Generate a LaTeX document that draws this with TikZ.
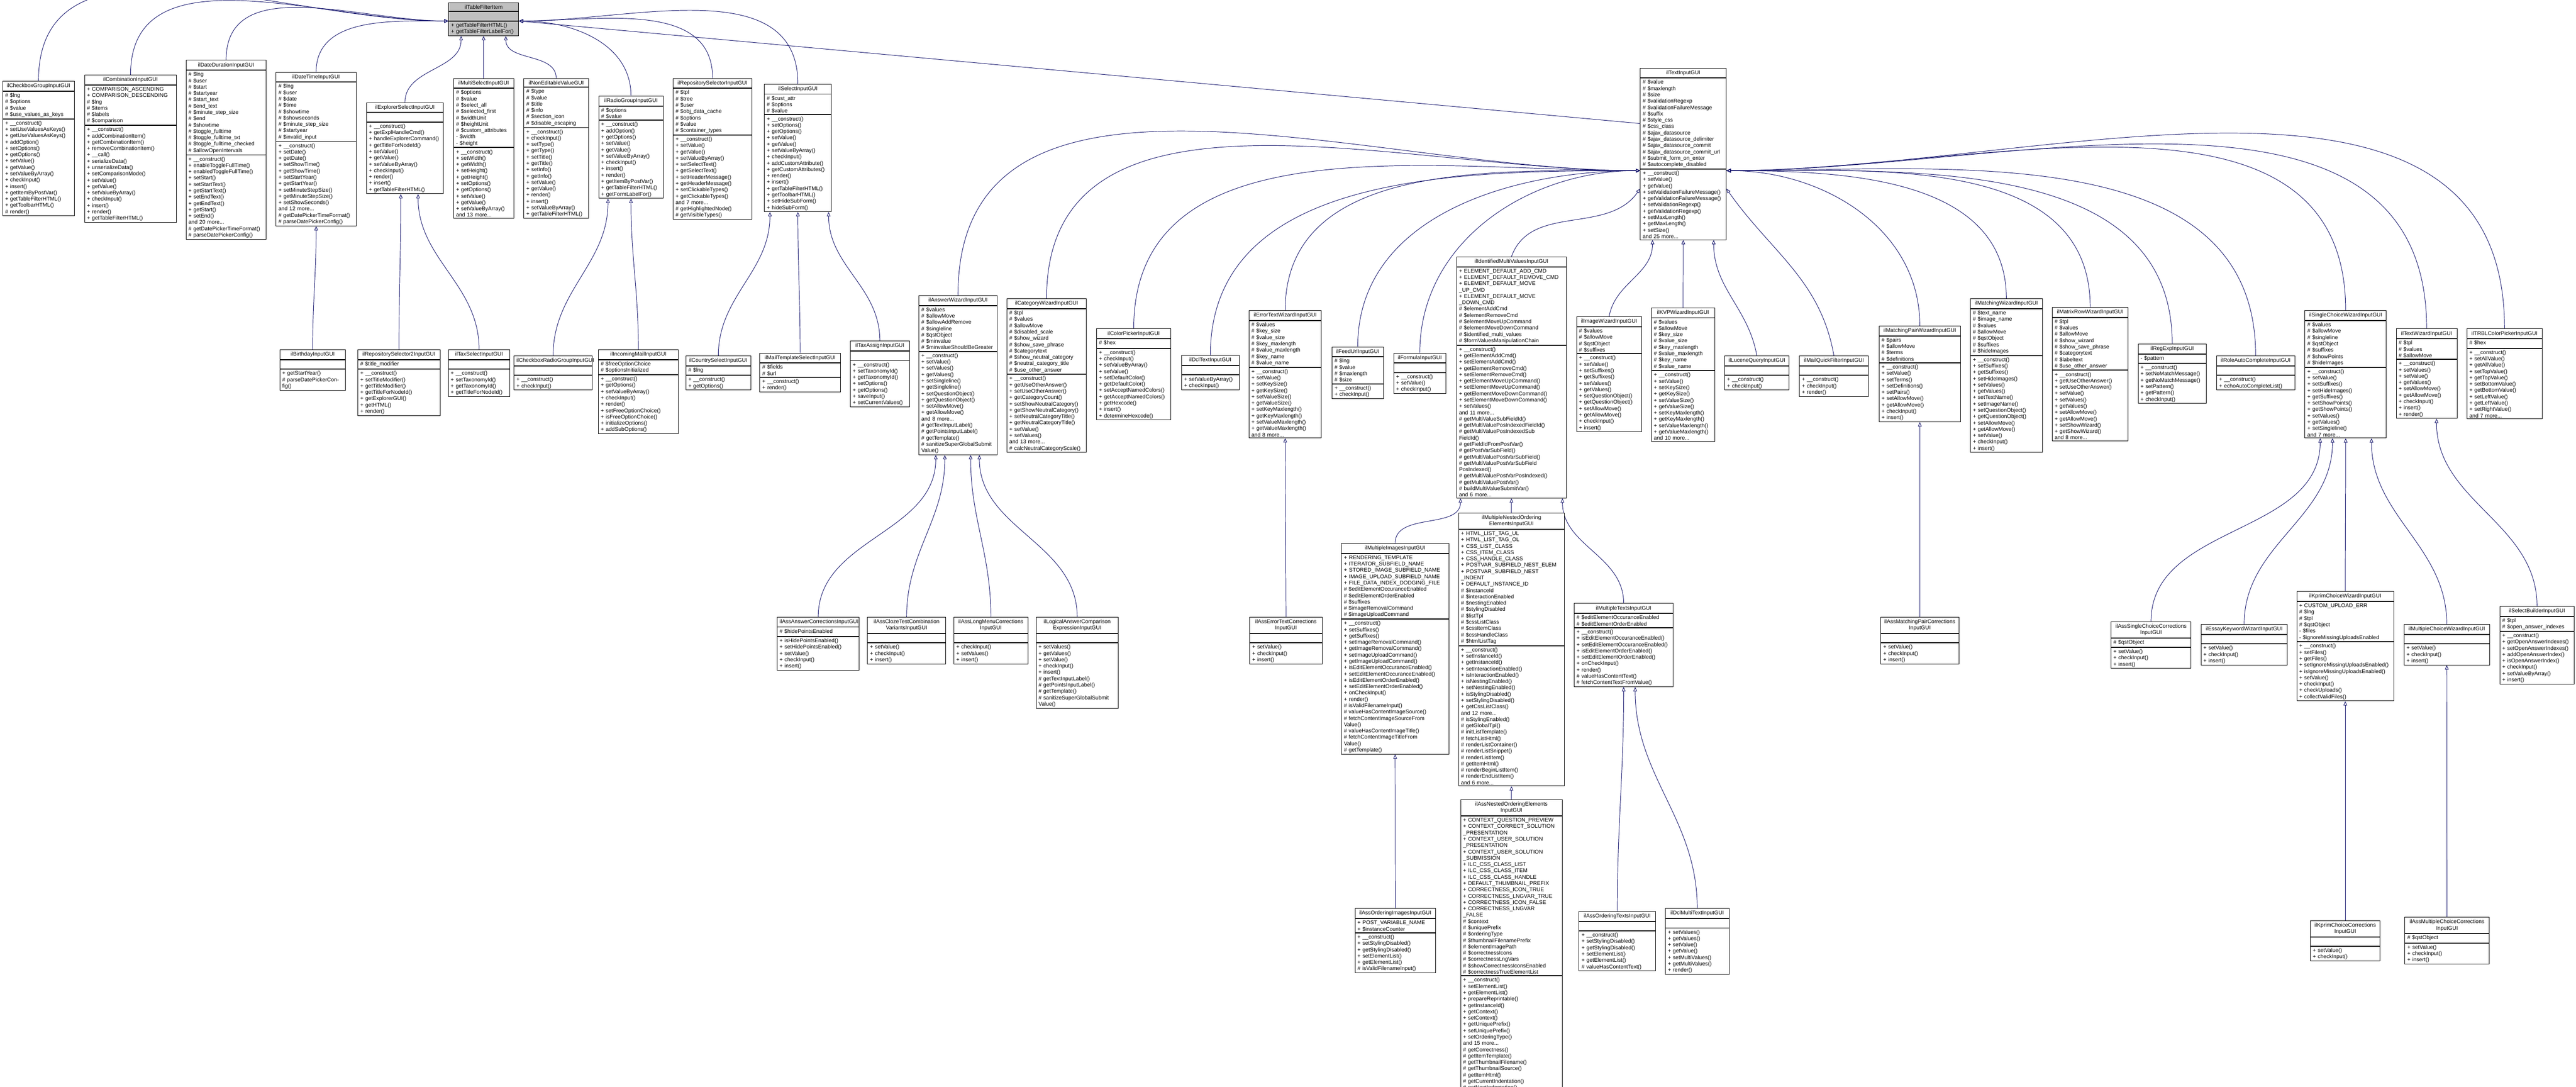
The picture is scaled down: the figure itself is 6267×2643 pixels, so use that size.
\documentclass[tikz,border=0pt]{standalone}
\usepackage{fontspec}
\setmainfont{Liberation Sans}
\usetikzlibrary{arrows.meta}
\definecolor{edgeblue}{HTML}{191970}
\definecolor{rootgray}{HTML}{BFBFBF}
\pgfdeclarelayer{bg}
\pgfdeclarelayer{paper}
\pgfsetlayers{paper,bg,main}
\tikzset{
  box/.style={draw=black,line width=0.3pt,fill=white,font=\fontsize{3.3}{3.85}\selectfont,inner xsep=1.5pt},
  ttl/.style={box,align=center,inner ysep=1.4pt},
  sec/.style={box,align=left,inner ysep=0.8pt},
  inh/.style={draw=edgeblue,line width=0.3pt,-{Triangle[open,length=2.6pt,width=2.2pt]}}
}
\newcommand\cls[8][]{%
  \pgfmathsetmacro\tw{#5*0.25-3}%
  \node[ttl,#1,text width=\tw pt,anchor=north west] (#2) at (#3,#4) {#6};
  \node[sec,#1,text width=\tw pt,anchor=north west] (#2a) at (#2.south west) {\strut#7};
  \node[sec,#1,text width=\tw pt,anchor=north west] (#2m) at (#2a.south west) {\strut#8};}
\begin{document}
\begin{tikzpicture}[x=0.25pt,y=-0.25pt]
\begin{pgfonlayer}{paper}
\fill[white] (0,0) rectangle (6267,2643);
\end{pgfonlayer}
\useasboundingbox (0,0) rectangle (6267,2643);
% root
\cls[fill=rootgray]{rt}{1091}{6}{170}{ilTableFilterItem}{}{+ getTableFilterHTML()\\+ getTableFilterLabelFor()}
% row 1
\cls{chk}{6}{197}{174}{ilCheckboxGroupInputGUI}{\# \$lng\\\# \$options\\\# \$value\\\# \$use\_values\_as\_keys}{+ \_\_construct()\\+ setUseValuesAsKeys()\\+ getUseValuesAsKeys()\\+ addOption()\\+ setOptions()\\+ getOptions()\\+ setValue()\\+ getValue()\\+ setValueByArray()\\+ checkInput()\\+ insert()\\+ getItemByPostVar()\\+ getTableFilterHTML()\\+ getToolbarHTML()\\\# render()}
\cls{cmb}{205}{182}{224}{ilCombinationInputGUI}{+ COMPARISON\_ASCENDING\\+ COMPARISON\_DESCENDING\\\# \$lng\\\# \$items\\\# \$labels\\\# \$comparison}{+ \_\_construct()\\+ addCombinationItem()\\+ getCombinationItem()\\+ removeCombinationItem()\\+ \_\_call()\\+ serializeData()\\+ unserializeData()\\+ setComparisonMode()\\+ setValue()\\+ getValue()\\+ setValueByArray()\\+ checkInput()\\+ insert()\\+ render()\\+ getTableFilterHTML()}
\cls{dd}{452}{146}{195}{ilDateDurationInputGUI}{\# \$lng\\\# \$user\\\# \$start\\\# \$startyear\\\# \$start\_text\\\# \$end\_text\\\# \$minute\_step\_size\\\# \$end\\\# \$showtime\\\# \$toggle\_fulltime\\\# \$toggle\_fulltime\_txt\\\# \$toggle\_fulltime\_checked\\\# \$allowOpenIntervals}{+ \_\_construct()\\+ enableToggleFullTime()\\+ enabledToggleFullTime()\\+ setStart()\\+ setStartText()\\+ getStartText()\\+ setEndText()\\+ getEndText()\\+ getStart()\\+ setEnd()\\and 20 more...\\\# getDatePickerTimeFormat()\\\# parseDatePickerConfig()}
\cls{dt}{671}{175}{195}{ilDateTimeInputGUI}{\# \$lng\\\# \$user\\\# \$date\\\# \$time\\\# \$showtime\\\# \$showseconds\\\# \$minute\_step\_size\\\# \$startyear\\\# \$invalid\_input}{+ \_\_construct()\\+ setDate()\\+ getDate()\\+ setShowTime()\\+ getShowTime()\\+ setStartYear()\\+ getStartYear()\\+ setMinuteStepSize()\\+ getMinuteStepSize()\\+ setShowSeconds()\\and 12 more...\\\# getDatePickerTimeFormat()\\\# parseDatePickerConfig()}
\cls{ex}{891}{249}{187}{ilExplorerSelectInputGUI}{}{+ \_\_construct()\\+ getExplHandleCmd()\\+ handleExplorerCommand()\\+ getTitleForNodeId()\\+ setValue()\\+ getValue()\\+ setValueByArray()\\+ checkInput()\\+ render()\\+ insert()\\+ getTableFilterHTML()}
\cls{ms}{1103}{190}{146}{ilMultiSelectInputGUI}{\# \$options\\\# \$value\\\# \$select\_all\\\# \$selected\_first\\\# \$widthUnit\\\# \$heightUnit\\\# \$custom\_attributes\\- \$width\\- \$height}{+ \_\_construct()\\+ setWidth()\\+ getWidth()\\+ setHeight()\\+ getHeight()\\+ setOptions()\\+ getOptions()\\+ setValue()\\+ getValue()\\+ setValueByArray()\\and 13 more...}
\cls{ne}{1274}{190}{157}{ilNonEditableValueGUI}{\# \$type\\\# \$value\\\# \$title\\\# \$info\\\# \$section\_icon\\\# \$disable\_escaping}{+ \_\_construct()\\+ checkInput()\\+ setType()\\+ getType()\\+ setTitle()\\+ getTitle()\\+ setInfo()\\+ getInfo()\\+ setValue()\\+ getValue()\\+ render()\\+ insert()\\+ setValueByArray()\\+ getTableFilterHTML()}
\cls{rg}{1456}{233}{157}{ilRadioGroupInputGUI}{\# \$options\\\# \$value}{+ \_\_construct()\\+ addOption()\\+ getOptions()\\+ setValue()\\+ getValue()\\+ setValueByArray()\\+ checkInput()\\+ insert()\\+ render()\\+ getItemByPostVar()\\+ getTableFilterHTML()\\+ getFormLabelFor()}
\cls{rep}{1637}{190}{192}{ilRepositorySelectorInputGUI}{\# \$tpl\\\# \$tree\\\# \$user\\\# \$obj\_data\_cache\\\# \$options\\\# \$value\\\# \$container\_types}{+ \_\_construct()\\+ setValue()\\+ getValue()\\+ setValueByArray()\\+ setSelectText()\\+ getSelectText()\\+ setHeaderMessage()\\+ getHeaderMessage()\\+ setClickableTypes()\\+ getClickableTypes()\\and 7 more...\\\# getHighlightedNode()\\\# getVisibleTypes()}
\cls{sel}{1859}{204}{163}{ilSelectInputGUI}{\# \$cust\_attr\\\# \$options\\\# \$value}{+ \_\_construct()\\+ setOptions()\\+ getOptions()\\+ setValue()\\+ getValue()\\+ setValueByArray()\\+ checkInput()\\+ addCustomAttribute()\\+ getCustomAttributes()\\+ render()\\+ insert()\\+ getTableFilterHTML()\\+ getToolbarHTML()\\+ setHideSubForm()\\+ hideSubForm()}
\cls{ti}{3990}{165}{209}{ilTextInputGUI}{\# \$value\\\# \$maxlength\\\# \$size\\\# \$validationRegexp\\\# \$validationFailureMessage\\\# \$suffix\\\# \$style\_css\\\# \$css\_class\\\# \$ajax\_datasource\\\# \$ajax\_datasource\_delimiter\\\# \$ajax\_datasource\_commit\\\# \$ajax\_datasource\_commit\_url\\\# \$submit\_form\_on\_enter\\\# \$autocomplete\_disabled}{+ \_\_construct()\\+ setValue()\\+ getValue()\\+ setValidationFailureMessage()\\+ getValidationFailureMessage()\\+ setValidationRegexp()\\+ getValidationRegexp()\\+ setMaxLength()\\+ getMaxLength()\\+ setSize()\\and 25 more...}
% row 2 (non text input)
\cls{bd}{680}{850}{160}{ilBirthdayInputGUI}{}{+ getStartYear()\\\# parseDatePickerConfig()}
\cls{rs2}{870}{850}{200}{ilRepositorySelector2InputGUI}{\# \$title\_modifier}{+ \_\_construct()\\+ setTitleModifier()\\+ getTitleModifier()\\+ getTitleForNodeId()\\+ getExplorerGUI()\\+ getHTML()\\+ render()}
\cls{txs}{1090}{850}{150}{ilTaxSelectInputGUI}{}{+ \_\_construct()\\+ setTaxonomyId()\\+ getTaxonomyId()\\+ getTitleForNodeId()}
\cls{crg}{1250}{865}{190}{ilCheckboxRadioGroupInputGUI}{}{+ \_\_construct()\\+ checkInput()}
\cls{im}{1455}{850}{195}{ilIncomingMailInputGUI}{\# \$freeOptionChoice\\\# \$optionsInitialized}{+ \_\_construct()\\+ getOptions()\\+ setValueByArray()\\+ checkInput()\\+ render()\\+ setFreeOptionChoice()\\+ isFreeOptionChoice()\\+ initializeOptions()\\+ addSubOptions()}
\cls{cs}{1668}{865}{158}{ilCountrySelectInputGUI}{\# \$lng}{+ \_\_construct()\\+ getOptions()}
\cls{mts}{1848}{858}{196}{ilMailTemplateSelectInputGUI}{\# \$fields\\\# \$url}{+ \_\_construct()\\+ render()}
\cls{ta}{2068}{829}{144}{ilTaxAssignInputGUI}{}{+ \_\_construct()\\+ setTaxonomyId()\\+ getTaxonomyId()\\+ setOptions()\\+ getOptions()\\+ saveInput()\\+ setCurrentValues()}
% row 2 (text input children)
\cls{aw}{2235}{718}{190}{ilAnswerWizardInputGUI}{\# \$values\\\# \$allowMove\\\# \$allowAddRemove\\\# \$singleline\\\# \$qstObject\\\# \$minvalue\\\# \$minvalueShouldBeGreater}{+ \_\_construct()\\+ setValue()\\+ setValues()\\+ getValues()\\+ setSingleline()\\+ getSingleline()\\+ setQuestionObject()\\+ getQuestionObject()\\+ setAllowMove()\\+ getAllowMove()\\and 8 more...\\\# getTextInputLabel()\\\# getPointsInputLabel()\\\# getTemplate()\\\# sanitizeSuperGlobalSubmit\\Value()}
\cls{cw}{2449}{726}{193}{ilCategoryWizardInputGUI}{\# \$tpl\\\# \$values\\\# \$allowMove\\\# \$disabled\_scale\\\# \$show\_wizard\\\# \$show\_save\_phrase\\\# \$categorytext\\\# \$show\_neutral\_category\\\# \$neutral\_category\_title\\\# \$use\_other\_answer}{+ \_\_construct()\\+ getUseOtherAnswer()\\+ setUseOtherAnswer()\\+ getCategoryCount()\\+ setShowNeutralCategory()\\+ getShowNeutralCategory()\\+ setNeutralCategoryTitle()\\+ getNeutralCategoryTitle()\\+ setValue()\\+ setValues()\\and 13 more...\\\# calcNeutralCategoryScale()}
\cls{cp}{2667}{799}{181}{ilColorPickerInputGUI}{\# \$hex}{+ \_\_construct()\\+ checkInput()\\+ setValueByArray()\\+ setValue()\\+ setDefaultColor()\\+ getDefaultColor()\\+ setAcceptNamedColors()\\+ getAcceptNamedColors()\\+ getHexcode()\\+ insert()\\+ determineHexcode()}
\cls{dcl}{2874}{864}{140}{ilDclTextInputGUI}{}{+ setValueByArray()\\+ checkInput()}
\cls{et}{3038}{755}{176}{ilErrorTextWizardInputGUI}{\# \$values\\\# \$key\_size\\\# \$value\_size\\\# \$key\_maxlength\\\# \$value\_maxlength\\\# \$key\_name\\\# \$value\_name}{+ \_\_construct()\\+ setValue()\\+ setKeySize()\\+ getKeySize()\\+ setValueSize()\\+ getValueSize()\\+ setKeyMaxlength()\\+ getKeyMaxlength()\\+ setValueMaxlength()\\+ getValueMaxlength()\\and 8 more...}
\cls{fu}{3240}{843}{125}{ilFeedUrlInputGUI}{\# \$lng\\\# \$value\\\# \$maxlength\\\# \$size}{+ \_\_construct()\\+ checkInput()}
\cls{fo}{3390}{858}{127}{ilFormulaInputGUI}{}{+ \_\_construct()\\+ setValue()\\+ checkInput()}
\cls{idm}{3543}{624}{267}{ilIdentifiedMultiValuesInputGUI}{+ ELEMENT\_DEFAULT\_ADD\_CMD\\+ ELEMENT\_DEFAULT\_REMOVE\_CMD\\+ ELEMENT\_DEFAULT\_MOVE\\\_UP\_CMD\\+ ELEMENT\_DEFAULT\_MOVE\\\_DOWN\_CMD\\\# \$elementAddCmd\\\# \$elementRemoveCmd\\\# \$elementMoveUpCommand\\\# \$elementMoveDownCommand\\\# \$identified\_multi\_values\\\# \$formValuesManipulationChain}{+ \_\_construct()\\+ getElementAddCmd()\\+ setElementAddCmd()\\+ getElementRemoveCmd()\\+ setElementRemoveCmd()\\+ getElementMoveUpCommand()\\+ setElementMoveUpCommand()\\+ getElementMoveDownCommand()\\+ setElementMoveDownCommand()\\+ setValues()\\and 11 more...\\\# getMultiValueSubFieldId()\\\# getMultiValuePosIndexedFieldId()\\\# getMultiValuePosIndexedSub\\FieldId()\\\# getFieldIdFromPostVar()\\\# getPostVarSubField()\\\# getMultiValuePostVarSubField()\\\# getMultiValuePostVarSubField\\PosIndexed()\\\# getMultiValuePostVarPosIndexed()\\\# getMultiValuePostVar()\\\# buildMultiValueSubmitVar()\\and 6 more...}
\cls{iw}{3835}{770}{158}{ilImageWizardInputGUI}{\# \$values\\\# \$allowMove\\\# \$qstObject\\\# \$suffixes}{+ \_\_construct()\\+ setValue()\\+ setSuffixes()\\+ getSuffixes()\\+ setValues()\\+ getValues()\\+ setQuestionObject()\\+ getQuestionObject()\\+ setAllowMove()\\+ getAllowMove()\\+ checkInput()\\+ insert()}
\cls{kvp}{4017}{748}{154}{ilKVPWizardInputGUI}{\# \$values\\\# \$allowMove\\\# \$key\_size\\\# \$value\_size\\\# \$key\_maxlength\\\# \$value\_maxlength\\\# \$key\_name\\\# \$value\_name}{+ \_\_construct()\\+ setValue()\\+ setKeySize()\\+ getKeySize()\\+ setValueSize()\\+ getValueSize()\\+ setKeyMaxlength()\\+ getKeyMaxlength()\\+ setValueMaxlength()\\+ getValueMaxlength()\\and 10 more...}
\cls{lq}{4195}{865}{157}{ilLuceneQueryInputGUI}{}{+ \_\_construct()\\+ checkInput()}
\cls{mq}{4377}{865}{168}{ilMailQuickFilterInputGUI}{}{+ \_\_construct()\\+ checkInput()\\+ render()}
\cls{mp}{4571}{792}{198}{ilMatchingPairWizardInputGUI}{\# \$pairs\\\# \$allowMove\\\# \$terms\\\# \$definitions}{+ \_\_construct()\\+ setValue()\\+ setTerms()\\+ setDefinitions()\\+ setPairs()\\+ setAllowMove()\\+ getAllowMove()\\+ checkInput()\\+ insert()}
\cls{mw}{4793}{726}{175}{ilMatchingWizardInputGUI}{\# \$text\_name\\\# \$image\_name\\\# \$values\\\# \$allowMove\\\# \$qstObject\\\# \$suffixes\\\# \$hideImages}{+ \_\_construct()\\+ setSuffixes()\\+ getSuffixes()\\+ setHideImages()\\+ setValues()\\+ getValues()\\+ setTextName()\\+ setImageName()\\+ setQuestionObject()\\+ getQuestionObject()\\+ setAllowMove()\\+ getAllowMove()\\+ setValue()\\+ checkInput()\\+ insert()}
\cls{mr}{4992}{747}{185}{ilMatrixRowWizardInputGUI}{\# \$tpl\\\# \$values\\\# \$allowMove\\\# \$show\_wizard\\\# \$show\_save\_phrase\\\# \$categorytext\\\# \$labeltext\\\# \$use\_other\_answer}{+ \_\_construct()\\+ getUseOtherAnswer()\\+ setUseOtherAnswer()\\+ setValue()\\+ setValues()\\+ getValues()\\+ setAllowMove()\\+ getAllowMove()\\+ setShowWizard()\\+ getShowWizard()\\and 8 more...}
\cls{re}{5201}{836}{166}{ilRegExpInputGUI}{- \$pattern}{+ \_\_construct()\\+ setNoMatchMessage()\\+ getNoMatchMessage()\\+ setPattern()\\+ getPattern()\\+ checkInput()}
\cls{ra}{5392}{865}{190}{ilRoleAutoCompleteInputGUI}{}{+ \_\_construct()\\+ echoAutoCompleteList()}
\cls{sc}{5607}{755}{198}{ilSingleChoiceWizardInputGUI}{\# \$values\\\# \$allowMove\\\# \$singleline\\\# \$qstObject\\\# \$suffixes\\\# \$showPoints\\\# \$hideImages}{+ \_\_construct()\\+ setValue()\\+ setSuffixes()\\+ setHideImages()\\+ getSuffixes()\\+ setShowPoints()\\+ getShowPoints()\\+ setValues()\\+ getValues()\\+ setSingleline()\\and 7 more...}
\cls{tw}{5829}{799}{148}{ilTextWizardInputGUI}{\# \$tpl\\\# \$values\\\# \$allowMove}{+ \_\_construct()\\+ setValues()\\+ setValue()\\+ getValues()\\+ setAllowMove()\\+ getAllowMove()\\+ checkInput()\\+ insert()\\+ render()}
\cls{trbl}{6001}{799}{183}{ilTRBLColorPickerInputGUI}{\# \$hex}{+ \_\_construct()\\+ setAllValue()\\+ getAllValue()\\+ setTopValue()\\+ getTopValue()\\+ setBottomValue()\\+ getBottomValue()\\+ setLeftValue()\\+ getLeftValue()\\+ setRightValue()\\and 7 more...}
% row 3
\cls{ac}{1890}{1500}{200}{ilAssAnswerCorrectionsInputGUI}{\# \$hidePointsEnabled}{+ isHidePointsEnabled()\\+ setHidePointsEnabled()\\+ setValue()\\+ checkInput()\\+ insert()}
\cls{ctc}{2110}{1500}{190}{ilAssClozeTestCombination\\VariantsInputGUI}{}{+ setValue()\\+ checkInput()\\+ insert()}
\cls{lmc}{2320}{1500}{180}{ilAssLongMenuCorrections\\InputGUI}{}{+ checkInput()\\+ setValues()\\+ insert()}
\cls{lac}{2520}{1500}{200}{ilLogicalAnswerComparison\\ExpressionInputGUI}{}{+ setValues()\\+ getValues()\\+ setValue()\\+ checkInput()\\+ insert()\\\# getTextInputLabel()\\\# getPointsInputLabel()\\\# getTemplate()\\\# sanitizeSuperGlobalSubmit\\Value()}
\cls{etc}{3040}{1500}{176}{ilAssErrorTextCorrections\\InputGUI}{}{+ setValue()\\+ checkInput()\\+ insert()}
\cls{mi}{3263}{1321}{261}{ilMultipleImagesInputGUI}{+ RENDERING\_TEMPLATE\\+ ITERATOR\_SUBFIELD\_NAME\\+ STORED\_IMAGE\_SUBFIELD\_NAME\\+ IMAGE\_UPLOAD\_SUBFIELD\_NAME\\+ FILE\_DATA\_INDEX\_DODGING\_FILE\\\# \$editElementOccuranceEnabled\\\# \$editElementOrderEnabled\\\# \$suffixes\\\# \$imageRemovalCommand\\\# \$imageUploadCommand}{+ \_\_construct()\\+ setSuffixes()\\+ getSuffixes()\\+ setImageRemovalCommand()\\+ getImageRemovalCommand()\\+ setImageUploadCommand()\\+ getImageUploadCommand()\\+ isEditElementOccuranceEnabled()\\+ setEditElementOccuranceEnabled()\\+ isEditElementOrderEnabled()\\+ setEditElementOrderEnabled()\\+ onCheckInput()\\+ render()\\\# isValidFilenameInput()\\\# valueHasContentImageSource()\\\# fetchContentImageSourceFrom\\Value()\\\# valueHasContentImageTitle()\\\# fetchContentImageTitleFrom\\Value()\\\# getTemplate()}
\cls{mno}{3548}{1247}{257}{ilMultipleNestedOrdering\\ElementsInputGUI}{+ HTML\_LIST\_TAG\_UL\\+ HTML\_LIST\_TAG\_OL\\+ CSS\_LIST\_CLASS\\+ CSS\_ITEM\_CLASS\\+ CSS\_HANDLE\_CLASS\\+ POSTVAR\_SUBFIELD\_NEST\_ELEM\\+ POSTVAR\_SUBFIELD\_NEST\\\_INDENT\\+ DEFAULT\_INSTANCE\_ID\\\# \$instanceId\\\# \$interactionEnabled\\\# \$nestingEnabled\\\# \$stylingDisabled\\\# \$listTpl\\\# \$cssListClass\\\# \$cssItemClass\\\# \$cssHandleClass\\\# \$htmlListTag}{+ \_\_construct()\\+ setInstanceId()\\+ getInstanceId()\\+ setInteractionEnabled()\\+ isInteractionEnabled()\\+ isNestingEnabled()\\+ setNestingEnabled()\\+ isStylingDisabled()\\+ setStylingDisabled()\\+ getCssListClass()\\and 12 more...\\\# isStylingEnabled()\\\# getGlobalTpl()\\\# initListTemplate()\\\# fetchListHtml()\\\# renderListContainer()\\\# renderListSnippet()\\\# renderListItem()\\\# getItemHtml()\\\# renderBeginListItem()\\\# renderEndListItem()\\and 6 more...}
\cls{mt}{3829}{1467}{241}{ilMultipleTextsInputGUI}{\# \$editElementOccuranceEnabled\\\# \$editElementOrderEnabled}{+ \_\_construct()\\+ isEditElementOccuranceEnabled()\\+ setEditElementOccuranceEnabled()\\+ isEditElementOrderEnabled()\\+ setEditElementOrderEnabled()\\+ onCheckInput()\\+ render()\\\# valueHasContentText()\\\# fetchContentTextFromValue()}
\cls{mpc}{4575}{1500}{190}{ilAssMatchingPairCorrections\\InputGUI}{}{+ setValue()\\+ checkInput()\\+ insert()}
\cls{ascc}{5135}{1511}{195}{ilAssSingleChoiceCorrections\\InputGUI}{\# \$qstObject}{+ setValue()\\+ checkInput()\\+ insert()}
\cls{ekw}{5354}{1518}{210}{ilEssayKeywordWizardInputGUI}{}{+ setValue()\\+ checkInput()\\+ insert()}
\cls{kp}{5587}{1438}{236}{ilKprimChoiceWizardInputGUI}{+ CUSTOM\_UPLOAD\_ERR\\\# \$lng\\\# \$tpl\\\# \$qstObject\\- \$files\\- \$ignoreMissingUploadsEnabled}{+ \_\_construct()\\+ setFiles()\\+ getFiles()\\+ setIgnoreMissingUploadsEnabled()\\+ isIgnoreMissingUploadsEnabled()\\+ setValue()\\+ checkInput()\\+ checkUploads()\\+ collectValidFiles()}
\cls{mcw}{5848}{1518}{208}{ilMultipleChoiceWizardInputGUI}{}{+ setValue()\\+ checkInput()\\+ insert()}
\cls{sb}{6081}{1474}{181}{ilSelectBuilderInputGUI}{\# \$tpl\\\# \$open\_answer\_indexes}{+ \_\_construct()\\+ getOpenAnswerIndexes()\\+ setOpenAnswerIndexes()\\+ addOpenAnswerIndex()\\+ isOpenAnswerIndex()\\+ checkInput()\\+ setValueByArray()\\+ insert()}
% row 4
\cls{aoi}{3296}{2209}{196}{ilAssOrderingImagesInputGUI}{+ POST\_VARIABLE\_NAME\\+ \$instanceCounter}{+ \_\_construct()\\+ setStylingDisabled()\\+ getStylingDisabled()\\+ setElementList()\\+ getElementList()\\\# isValidFilenameInput()}
\cls{ano}{3553}{1944}{247}{ilAssNestedOrderingElements\\InputGUI}{+ CONTEXT\_QUESTION\_PREVIEW\\+ CONTEXT\_CORRECT\_SOLUTION\\\_PRESENTATION\\+ CONTEXT\_USER\_SOLUTION\\\_PRESENTATION\\+ CONTEXT\_USER\_SOLUTION\\\_SUBMISSION\\+ ILC\_CSS\_CLASS\_LIST\\+ ILC\_CSS\_CLASS\_ITEM\\+ ILC\_CSS\_CLASS\_HANDLE\\+ DEFAULT\_THUMBNAIL\_PREFIX\\+ CORRECTNESS\_ICON\_TRUE\\+ CORRECTNESS\_LNGVAR\_TRUE\\+ CORRECTNESS\_ICON\_FALSE\\+ CORRECTNESS\_LNGVAR\\\_FALSE\\\# \$context\\\# \$uniquePrefix\\\# \$orderingType\\\# \$thumbnailFilenamePrefix\\\# \$elementImagePath\\\# \$correctnessIcons\\\# \$correctnessLngVars\\\# \$showCorrectnessIconsEnabled\\\# \$correctnessTrueElementList}{+ \_\_construct()\\+ setElementList()\\+ getElementList()\\+ prepareReprintable()\\+ getInstanceId()\\+ getContext()\\+ setContext()\\+ getUniquePrefix()\\+ setUniquePrefix()\\+ setOrderingType()\\and 15 more...\\\# getCorrectness()\\\# getItemTemplate()\\\# getThumbnailFilename()\\\# getThumbnailSource()\\\# getItemHtml()\\\# getCurrentIndentation()\\\# getNextIndentation()}
\cls{aot}{3841}{2216}{186}{ilAssOrderingTextsInputGUI}{}{+ \_\_construct()\\+ setStylingDisabled()\\+ getStylingDisabled()\\+ setElementList()\\+ getElementList()\\\# valueHasContentText()}
\cls{dmt}{4051}{2209}{155}{ilDclMultiTextInputGUI}{}{+ setValues()\\+ getValues()\\+ setValue()\\+ getValue()\\+ setMultiValues()\\+ getMultiValues()\\+ render()}
\cls{kpc}{5620}{2238}{170}{ilKprimChoiceCorrections\\InputGUI}{}{+ setValue()\\+ checkInput()}
\cls{amcc}{5850}{2230}{205}{ilAssMultipleChoiceCorrections\\InputGUI}{\# \$qstObject}{+ setValue()\\+ checkInput()\\+ insert()}
\begin{pgfonlayer}{bg}
% ---- edges to root
\foreach \c in {chk,cmb,dd,dt}{\draw[inh] (\c.north) to[out=90,in=180] (rta.south west);}
\draw[inh] (ex.north) to[out=90,in=-90] ([xshift=-13.7pt]rtm.south);
\draw[inh] (ms.north) -- (rtm.south);
\draw[inh] (ne.north) to[out=90,in=-90] ([xshift=13.5pt]rtm.south);
\foreach \c in {rg,rep,sel}{\draw[inh] (\c.north) to[out=90,in=0] (rta.south east);}
\draw[inh] (tia.west) -- (rta.south east);
% ---- edges to text input
\foreach \c in {aw,cw,cp,dcl,et,fu,fo}{\draw[inh] (\c.north) to[out=90,in=180] ([yshift=-1pt]tia.south west);}
\draw[inh] (idm.north) to[out=70,in=235] ([yshift=-12pt]tia.south west);
\draw[inh] (iw.north) to[out=80,in=-90] ([xshift=-18.7pt]tim.south);
\draw[inh] (kvp.north) -- (tim.south);
\draw[inh] (lq.north) to[out=100,in=-90] ([xshift=18.5pt]tim.south);
\draw[inh] (mq.north) to[out=100,in=-55] ([yshift=-12pt]tia.south east);
\foreach \c in {mp,mw,mr,re,ra,sc,tw,trbl}{\draw[inh] (\c.north) to[out=90,in=0] ([yshift=-1pt]tia.south east);}
% ---- other edges
\draw[inh] (bd.north) to[out=90,in=-90] (dtm.south);
\draw[inh] (rs2.north) to[out=90,in=-90] ([xshift=-2.5pt]exm.south);
\draw[inh] (txs.north) to[out=90,in=-90] ([xshift=8pt]exm.south);
\draw[inh] (crg.north) to[out=90,in=-90] ([xshift=-14pt]rgm.south);
\draw[inh] (im.north) to[out=90,in=-90] (rgm.south);
\draw[inh] (cs.north) to[out=90,in=-90] ([xshift=-17pt]selm.south);
\draw[inh] (mts.north) to[out=90,in=-90] (selm.south);
\draw[inh] (ta.north) to[out=90,in=-90] ([xshift=18.7pt]selm.south);
\draw[inh] (ac.north) to[out=90,in=-90] ([xshift=-13.5pt]awm.south);
\draw[inh] (ctc.north) to[out=90,in=-90] ([xshift=-8pt]awm.south);
\draw[inh] (lmc.north) to[out=90,in=-90] ([xshift=7.7pt]awm.south);
\draw[inh] (lac.north) to[out=90,in=-90] ([xshift=13pt]awm.south);
\draw[inh] (etc.north) -- (etm.south);
\draw[inh] (mi.north) to[out=90,in=-90] ([xshift=-31pt]idmm.south);
\draw[inh] (mno.north) -- (idmm.south);
\draw[inh] (mt.north) to[out=90,in=-90] ([xshift=31pt]idmm.south);
\draw[inh] (aoi.north) -- (mim.south);
\draw[inh] (ano.north) -- (mnom.south);
\draw[inh] (aot.north) to[out=90,in=-90] (mtm.south);
\draw[inh] (dmt.north) to[out=90,in=-90] ([xshift=7pt]mtm.south);
\draw[inh] (mpc.north) -- (mpm.south);
\draw[inh] (ascc.north) to[out=90,in=-90] ([xshift=-15.5pt]scm.south);
\draw[inh] (ekw.north) to[out=90,in=-90] ([xshift=-8pt]scm.south);
\draw[inh] (kp.north) to[out=90,in=-90] (scm.south);
\draw[inh] (mcw.north) to[out=90,in=-90] ([xshift=15.7pt]scm.south);
\draw[inh] (sb.north) to[out=90,in=-90] ([xshift=6pt]twm.south);
\draw[inh] (kpc.north) -- (kpm.south);
\draw[inh] (amcc.north) -- (mcwm.south);
\end{pgfonlayer}
\end{tikzpicture}
\end{document}
